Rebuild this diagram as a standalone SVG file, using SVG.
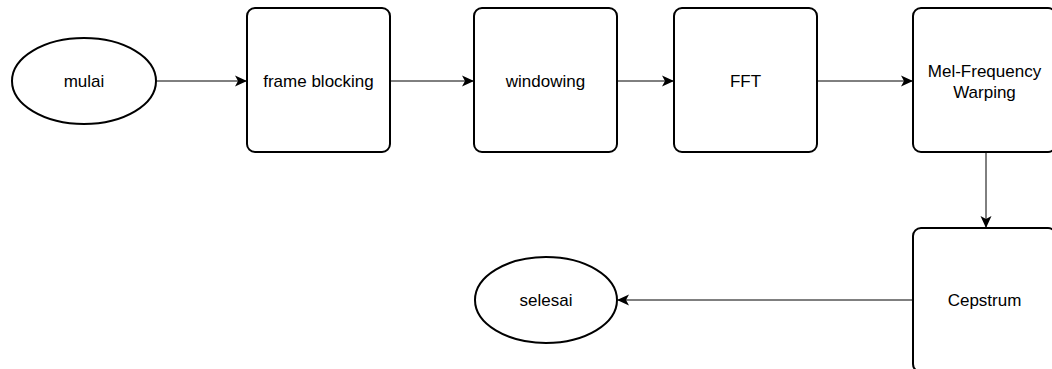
<svg xmlns="http://www.w3.org/2000/svg" width="1052" height="369" viewBox="0 0 1052 369">
<style>
.shape{fill:#fff;stroke:#000;stroke-width:2}
.edge{fill:none;stroke:#000;stroke-width:1}
text{font-family:"Liberation Sans",Arial,sans-serif;font-size:17px;fill:#000;text-anchor:middle;dominant-baseline:central}
</style>
<defs>
<marker id="arr" viewBox="0 0 12 12" refX="11" refY="6" markerWidth="12" markerHeight="12" markerUnits="userSpaceOnUse" orient="auto">
<path d="M0,0.5 L12,6 L0,11.5 L3,6 Z" fill="#000"/>
</marker>
</defs>
<rect width="1052" height="369" fill="#fff"/>
<g id="connectors">
<line class="edge" x1="157" y1="81" x2="246" y2="81" marker-end="url(#arr)"/>
<line class="edge" x1="391" y1="81" x2="473" y2="81" marker-end="url(#arr)"/>
<line class="edge" x1="618" y1="81" x2="673" y2="81" marker-end="url(#arr)"/>
<line class="edge" x1="818" y1="81" x2="912" y2="81" marker-end="url(#arr)"/>
<line class="edge" x1="986" y1="153" x2="986" y2="227" marker-end="url(#arr)"/>
<line class="edge" x1="912" y1="300" x2="618" y2="300" marker-end="url(#arr)"/>
</g>
<g id="mulai"><ellipse class="shape" cx="84" cy="81" rx="72" ry="43"/><text x="84" y="81">mulai</text></g>
<g id="frame-blocking"><rect class="shape" x="247" y="8" width="143" height="144" rx="8"/><text x="318.5" y="81">frame blocking</text></g>
<g id="windowing"><rect class="shape" x="474" y="8" width="143" height="144" rx="8"/><text x="545.5" y="81">windowing</text></g>
<g id="fft"><rect class="shape" x="674" y="8" width="143" height="144" rx="8"/><text x="745.5" y="81">FFT</text></g>
<g id="mel"><rect class="shape" x="913" y="8" width="143" height="144" rx="8"/><text x="984.5" y="71">Mel-Frequency</text><text x="984.5" y="92">Warping</text></g>
<g id="cepstrum"><rect class="shape" x="913" y="228" width="143" height="144" rx="8"/><text x="984.5" y="300">Cepstrum</text></g>
<g id="selesai"><ellipse class="shape" cx="546" cy="300" rx="71" ry="43"/><text x="546" y="300">selesai</text></g>
</svg>
